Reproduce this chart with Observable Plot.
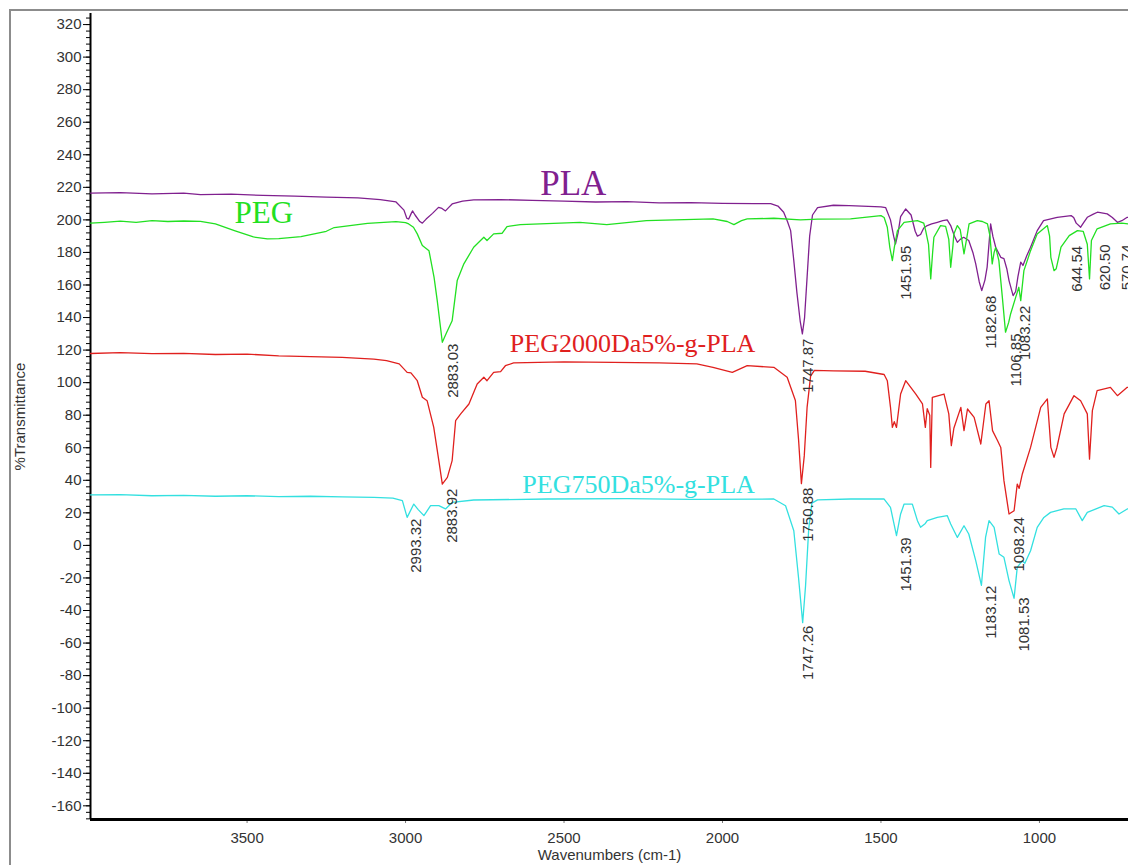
<!DOCTYPE html>
<html><head><meta charset="utf-8">
<script src="https://cdn.jsdelivr.net/npm/d3@7"></script>
<script src="https://cdn.jsdelivr.net/npm/@observablehq/plot@0.6"></script>
<style>
html,body{margin:0;padding:0;background:#fff;overflow:hidden;}
#wrap{position:relative;width:1128px;height:865px;overflow:hidden;}
#frame{position:absolute;left:9px;top:9px;width:1300px;height:1000px;border-left:2px solid #8c8c8c;border-top:2px solid #8c8c8c;}
#chart{position:absolute;left:0;top:0;}
</style></head><body>
<div id="wrap"><div id="frame"></div><div id="chart"></div></div>
<script>
// ---- data: [wavenumber (cm-1), %Transmittance] ----
const PLA = [[3994,216.5],[3900,216.8],[3800,216],[3700,216.5],[3647,215.5],[3550,215.8],[3450,215],[3350,214.6],[3250,214],[3150,213.5],[3080,212.5],[3030,211],[3005,206],[2996,201],[2990,200.5],[2982,204],[2978,205.5],[2970,203],[2955,199],[2947,198],[2935,200.5],[2915,204],[2896,207.7],[2885,207],[2874,205.5],[2862,208],[2853,209.8],[2820,211.5],[2785,212.3],[2700,212.5],[2600,212],[2500,211.5],[2400,211],[2300,211.2],[2200,210.5],[2100,210.6],[2000,210.2],[1900,210],[1848,210],[1825,208.5],[1807,204.7],[1795,199],[1785,193.4],[1775,175],[1765,155],[1755,138],[1748,130],[1741,140],[1733,165],[1725,190],[1716,203],[1700,207.5],[1650,209],[1600,208.7],[1500,208],[1485,207.5],[1470,200],[1460,190],[1454,185.2],[1446,192],[1438,202],[1422,206.7],[1405,203],[1392,193],[1385,190],[1375,191],[1365,195],[1354,196.5],[1340,197.5],[1322,198.5],[1305,199.5],[1291,200],[1280,196.5],[1268,190],[1259,186.2],[1250,188],[1239,189.3],[1223,187.3],[1210,180],[1201,173],[1190,162],[1182,156.5],[1172,163],[1165,171],[1158,188],[1154,197.5],[1147,190],[1138,183.2],[1122,177],[1112,176.2],[1103,170],[1096,162.7],[1083,153.5],[1075,156],[1068,165],[1059,174],[1052,172],[1040,178],[1028,183.2],[1007,193.4],[987,199.6],[944,201.6],[900,202.6],[892,201.5],[884,198],[870,195.5],[860,198.5],[849,201.6],[830,203.5],[817,204.7],[786,203.7],[770,201.5],[754,198.5],[740,199.5],[723,201.6],[719,201.6]];

const PEG = [[3994,198],[3950,198.5],[3900,199.2],[3850,198.5],[3800,199.5],[3750,199],[3700,199.3],[3647,199.1],[3600,197.5],[3540,193.4],[3480,189.5],[3436,188.3],[3400,188.5],[3330,189.7],[3250,193],[3225,195.3],[3120,197.9],[3030,198.9],[3000,198.3],[2990,197.5],[2975,195.5],[2963,191.4],[2947,184.2],[2926,181],[2910,164.7],[2900,150.4],[2884,124.8],[2870,131],[2853,138],[2837,162.7],[2816,173],[2785,183.2],[2753,189.3],[2743,187.3],[2722,191.4],[2695,191.8],[2680,195.9],[2638,197.1],[2450,198.5],[2365,197.1],[2240,199.6],[2030,200.6],[1985,199],[1964,197.1],[1940,199.5],[1922,200.6],[1838,201],[1754,200],[1700,200.5],[1596,200.6],[1500,202.6],[1490,201.5],[1480,195.5],[1472,183],[1464,175],[1458,183],[1448,193.4],[1427,198.5],[1385,199.6],[1365,198],[1359,193.4],[1350,185],[1343,163.7],[1337,180],[1333,189.3],[1312,196.5],[1296,196],[1286,188],[1280,170.9],[1273,184],[1270,191.4],[1259,196.5],[1250,194],[1245,188],[1238,179.1],[1230,188],[1222,197.5],[1196,199.6],[1180,199],[1164,197.5],[1156,190],[1149,173],[1143,180],[1138,183],[1128,175],[1117,152.4],[1107,131],[1097,137],[1091,142.2],[1075,152.4],[1065,158.6],[1059,150.4],[1049,168.8],[1028,181.1],[1007,191.4],[975,196.5],[968,190],[964,177],[954,168.8],[947,170],[932,183.2],[906,190.3],[880,193.4],[862,193],[849,185],[842,163.7],[836,187.3],[818,194.5],[776,197.5],[740,198],[719,197.5]];

const PEG2000 = [[3994,117.9],[3900,118.5],[3800,117.8],[3700,118],[3600,117.3],[3500,117.5],[3400,116.5],[3300,116],[3200,115.5],[3100,114.5],[3060,113.5],[3020,111.5],[2995,106.3],[2983,106],[2963,101.2],[2947,91],[2932,88.9],[2911,72.5],[2895,52.1],[2884,37.7],[2868,41.8],[2853,52.1],[2842,76.6],[2826,80.8],[2800,86.9],[2774,99.2],[2753,103.3],[2743,101.2],[2722,106.3],[2700,106.8],[2685,110.4],[2659,112.1],[2500,112.8],[2344,112.5],[2200,112.2],[2081,111.5],[2030,109.4],[1969,106.3],[1922,110.4],[1838,109.4],[1796,103.3],[1770,89],[1760,65],[1751,37.9],[1742,55],[1733,85],[1722,104],[1710,107.5],[1650,107.2],[1550,107],[1490,105],[1480,101.2],[1470,85],[1464,72.5],[1458,76],[1451,72.5],[1438,93],[1422,101.2],[1390,93],[1369,86.9],[1360,72.5],[1354,84],[1346,80],[1343,47.9],[1338,91],[1301,93],[1286,80.8],[1278,61.3],[1270,72],[1248,84.8],[1238,70.5],[1227,83.8],[1206,78.7],[1185,62.3],[1169,86.9],[1159,88.9],[1148,70.5],[1132,64.3],[1122,60.2],[1112,39.8],[1096,19.3],[1080,21.3],[1070,37.7],[1064,35],[1054,43.9],[1028,60.2],[996,84.8],[975,90],[964,60.2],[954,54.1],[945,60],[922,80.8],[891,92],[870,88.9],[849,80.8],[842,53],[833,82.8],[818,95.1],[776,97.1],[754,92],[723,97.1],[719,97]];

const PEG750 = [[3994,31],[3900,31.2],[3800,30.5],[3700,30.8],[3600,30.2],[3500,30.5],[3400,30],[3300,30.2],[3200,29.8],[3100,29.5],[3040,29],[3010,27.5],[2995,17.2],[2974,25.4],[2960,22],[2942,18.3],[2921,24.4],[2895,24.4],[2874,22.4],[2853,26.4],[2785,27.9],[2553,28.5],[2300,28.8],[2100,28.3],[1838,28.5],[1801,24.4],[1775,9],[1760,-20],[1747,-47.5],[1738,-25],[1728,10],[1718,26],[1700,28],[1596,28.5],[1490,28.5],[1470,23.4],[1451,6],[1438,19.3],[1427,25.4],[1401,25.4],[1385,15.2],[1375,11.1],[1360,13.5],[1354,15.2],[1322,17.2],[1291,18.3],[1280,13.2],[1259,4.9],[1238,12.1],[1223,7],[1201,-9.4],[1183,-24.5],[1170,4.9],[1159,15.2],[1143,11.1],[1127,-5.3],[1112,-7.3],[1096,-21.6],[1080,-32.5],[1070,-13.5],[1054,-9.4],[1046,-11],[1028,-3.3],[1007,11.1],[986,17.2],[965,20.3],[923,22.4],[885,22.4],[865,15.2],[849,20.3],[796,24.4],[770,23.5],[749,19.3],[723,22.4],[719,22.4]];

// peak annotations: [wavenumber, %T at top of label, text]
const peakLabels = [
  [2849.5,124.0,"2883.03"],[2851.7,34.9,"2883.92"],[2965,16.5,"2993.32"],
  [1728.4,127.1,"1747.87"],[1728.4,35.5,"1750.88"],[1728.4,-49.3,"1747.26"],
  [1419,184.2,"1451.95"],[1151,153.5,"1182.68"],[1073.7,130.2,"1106.85"],[1043.7,147.3,"1083.22"],
  [880.5,184.0,"644.54"],[791,184.9,"620.50"],[722,184.9,"570.74"],
  [1419,5.0,"1451.39"],[1151,-24.7,"1183.12"],[1062.6,17.3,"1098.24"],[1046.7,-31.9,"1081.53"]
];
// series names: [wavenumber, %T, text]
const nameLabels = [[2470.7,222.4,"PLA"],[3447.4,203.9,"PEG"],[2283.7,123.7,"PEG2000Da5%-g-PLA"],[2264.8,37.4,"PEG750Da5%-g-PLA"]];

const xDomain = [3994, 719];
const yDomain = [-168.4, 326.8];
const xTicks = [3500, 3000, 2500, 2000, 1500, 1000];
const yMajor = d3.range(-160, 321, 20);
const yMinor = d3.range(-168, 327, 4);

const colors = {PLA:"#80208f", PEG:"#22e022", PEG2000:"#e0201e", PEG750:"#33e0e0"};
const serif = "'Liberation Serif','Times New Roman',serif";

const chart = Plot.plot({
  width: 1128, height: 880,
  marginLeft: 90, marginRight: 0, marginTop: 13, marginBottom: 61,
  style: {fontFamily: "'Liberation Sans', Arial, sans-serif", fontSize: "15px", color: "#333", background: "transparent"},
  x: {domain: xDomain},
  y: {domain: yDomain},
  marks: [
    Plot.axisY({ticks: yMinor, tickSize: 4, tickFormat: () => "", stroke: "#000", label: null}),
    Plot.axisY({ticks: yMajor, tickSize: 7, tickPadding: 2, tickFormat: d => String(d), stroke: "#000", fill: "#333", fontSize: 15,
      label: "%Transmittance", labelAnchor: "center", labelArrow: false, labelOffset: 76}),
    Plot.axisX({ticks: xTicks, tickSize: 4, tickPadding: 9, tickFormat: d => String(d), stroke: "#777", fill: "#333", fontSize: 15,
      label: "Wavenumbers (cm-1)", labelAnchor: "center", labelArrow: false, labelOffset: 40}),
    Plot.ruleX([xDomain[0]], {stroke: "#000", strokeWidth: 2}),
    Plot.ruleY([yDomain[0]], {stroke: "#000", strokeWidth: 3}),
    Plot.line(PLA, {x: d => d[0], y: d => d[1], stroke: colors.PLA, strokeWidth: 1.3}),
    Plot.line(PEG, {x: d => d[0], y: d => d[1], stroke: colors.PEG, strokeWidth: 1.3}),
    Plot.line(PEG2000, {x: d => d[0], y: d => d[1], stroke: colors.PEG2000, strokeWidth: 1.3}),
    Plot.line(PEG750, {x: d => d[0], y: d => d[1], stroke: colors.PEG750, strokeWidth: 1.3}),
    Plot.text(peakLabels, {x: d => d[0], y: d => d[1], text: d => d[2], rotate: -90, textAnchor: "end", lineAnchor: "middle", fill: "#333", fontSize: 15}),
    Plot.text(nameLabels.slice(0,1), {x: d => d[0], y: d => d[1], text: d => d[2], fill: colors.PLA, fontSize: 35, fontFamily: serif}),
    Plot.text(nameLabels.slice(1,2), {x: d => d[0], y: d => d[1], text: d => d[2], fill: colors.PEG, fontSize: 31, fontFamily: serif}),
    Plot.text(nameLabels.slice(2,3), {x: d => d[0], y: d => d[1], text: d => d[2], fill: colors.PEG2000, fontSize: 26, fontFamily: serif}),
    Plot.text(nameLabels.slice(3,4), {x: d => d[0], y: d => d[1], text: d => d[2], fill: colors.PEG750, fontSize: 26, fontFamily: serif})
  ]
});
document.getElementById("chart").appendChild(chart);
</script>
</body></html>
